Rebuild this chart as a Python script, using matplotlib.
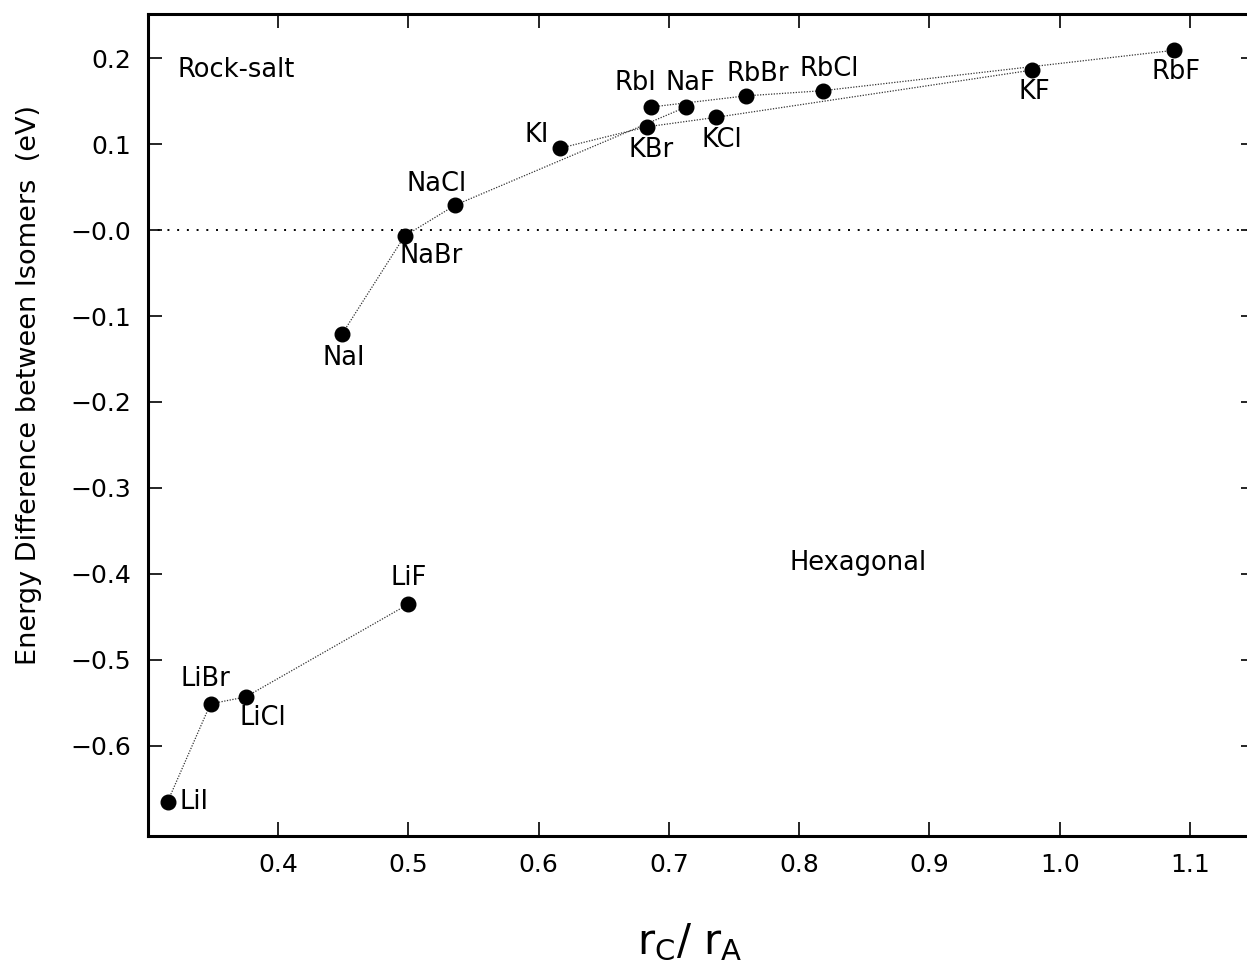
import matplotlib
matplotlib.use("Agg")
import matplotlib.pyplot as plt
from matplotlib.ticker import FixedLocator, FixedFormatter

# radius ratio r_C/r_A and energy difference (eV), one series per cation
li_names = ["LiI", "LiBr", "LiCl", "LiF"]
li_ratio = [0.315, 0.348, 0.375, 0.500]
li_energy = [-0.665, -0.551, -0.543, -0.435]

na_names = ["NaI", "NaBr", "NaCl", "NaF"]
na_ratio = [0.449, 0.497, 0.536, 0.713]
na_energy = [-0.121, -0.007, 0.029, 0.143]

k_names = ["KI", "KBr", "KCl", "KF"]
k_ratio = [0.616, 0.683, 0.736, 0.979]
k_energy = [0.095, 0.120, 0.131, 0.186]

rb_names = ["RbI", "RbBr", "RbCl", "RbF"]
rb_ratio = [0.686, 0.759, 0.818, 1.088]
rb_energy = [0.143, 0.156, 0.162, 0.209]

x_ticks = [0.4, 0.5, 0.6, 0.7, 0.8, 0.9, 1.0, 1.1]
x_labels = ["0.4", "0.5", "0.6", "0.7", "0.8", "0.9", "1.0", "1.1"]
y_ticks = [0.2, 0.1, 0.0, -0.1, -0.2, -0.3, -0.4, -0.5, -0.6]
y_labels = ["0.2", "0.1", "\u22120.0", "\u22120.1", "\u22120.2", "\u22120.3",
            "\u22120.4", "\u22120.5", "\u22120.6"]

# label placement, offset in pixels from each point
label_offsets = {
    "LiI": (12, 0, "left"), "LiBr": (-5, 25, "center"), "LiCl": (17, -21, "center"),
    "LiF": (0, 26, "center"), "NaI": (2, -24, "center"), "NaBr": (27, -20, "center"),
    "NaCl": (-19, 21, "center"), "KI": (-23, 13, "center"), "KBr": (4, -23, "center"),
    "RbI": (-15, 24, "center"), "NaF": (5, 24, "center"), "KCl": (6, -23, "center"),
    "RbBr": (12, 22, "center"), "RbCl": (7, 22, "center"), "KF": (2, -22, "center"),
    "RbF": (2, -22, "center"),
}

plt.rcParams["font.family"] = "DejaVu Sans"

fig = plt.figure(figsize=(12.47, 9.72), dpi=100)
ax = fig.add_axes([148 / 1247, 1 - 836 / 972, 1107 / 1247, 822 / 972])
ax.set_xlim(0.30, 1.15)
ax.set_ylim(-0.7047, 0.2512)

ax.axhline(0.0, color="black", lw=1.4, linestyle=(0, (1, 4)), zorder=1)

series = [
    (li_names, li_ratio, li_energy),
    (na_names, na_ratio, na_energy),
    (k_names, k_ratio, k_energy),
    (rb_names, rb_ratio, rb_energy),
]
for names, xs, ys in series:
    ax.plot(xs, ys, color="#333333", lw=0.9, linestyle=(0, (1, 1.2)), zorder=2)
    ax.plot(xs, ys, "o", color="black", markersize=10.5, zorder=3)
    for name, x, y in zip(names, xs, ys):
        dx, dy, ha = label_offsets[name]
        ax.annotate(name, (x, y), xytext=(dx, dy), textcoords="offset pixels",
                    ha=ha, va="center", fontsize=18.5)

fig.text(178 / 1247, 1 - 70 / 972, "Rock-salt", ha="left", va="center", fontsize=18.5)
fig.text(858 / 1247, 1 - 563 / 972, "Hexagonal", ha="center", va="center", fontsize=18.5)

ax.xaxis.set_major_locator(FixedLocator(x_ticks))
ax.xaxis.set_major_formatter(FixedFormatter(x_labels))
ax.yaxis.set_major_locator(FixedLocator(y_ticks))
ax.yaxis.set_major_formatter(FixedFormatter(y_labels))
ax.tick_params(direction="in", length=10, width=1.2, top=True, right=True,
               labelsize=18, pad=12)
for s in ax.spines.values():
    s.set_linewidth(2.2)

fig.text(29 / 1247, 1 - 385 / 972, "Energy Difference between Isomers  (eV)",
         rotation=90, ha="center", va="center", fontsize=19.5)
fig.text(690 / 1247, 1 - 942 / 972, r"r$_{\mathrm{C}}$/ r$_{\mathrm{A}}$",
         ha="center", va="center", fontsize=30)

fig.savefig("out.png", dpi=100)
